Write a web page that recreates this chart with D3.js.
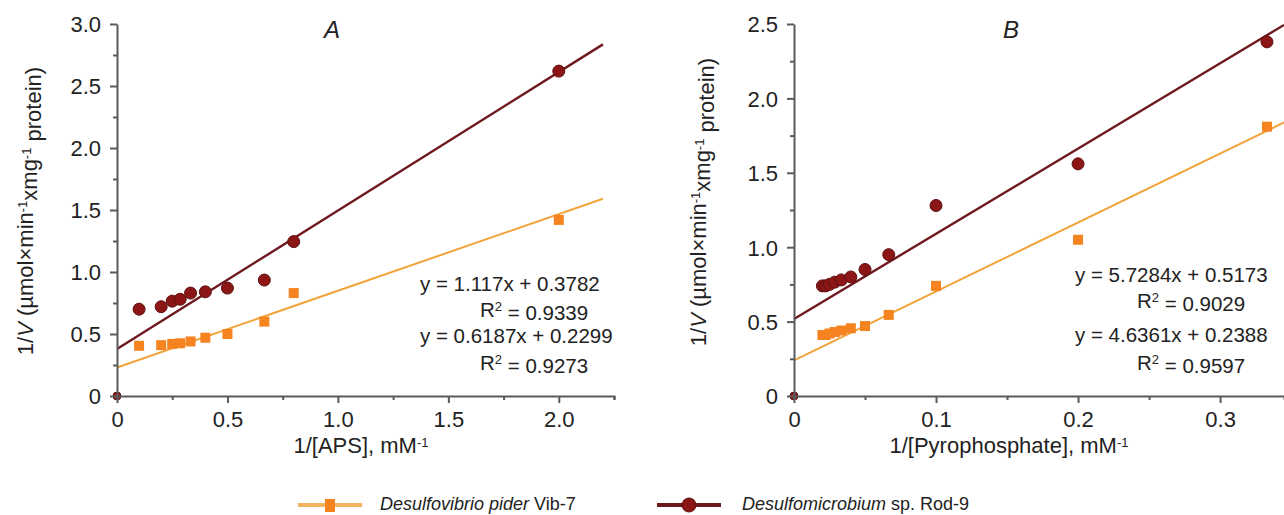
<!DOCTYPE html>
<html>
<head>
<meta charset="utf-8">
<title>Lineweaver-Burk plots</title>
<script src="https://cdn.jsdelivr.net/npm/d3@7"></script>
<style>
  body { margin: 0; background: #fff; }
  svg { display: block; font-family: "Liberation Sans", Arial, Helvetica, sans-serif; }
  .axis path, .axis line { stroke: #5a5a5a; stroke-width: 2; }
  .axis text { font-size: 22px; fill: #222; font-family: "Liberation Sans", Arial, sans-serif; }
  .minor path { stroke: none; }
  .minor text { display: none; }
  .eq { font-size: 20.5px; fill: #222; }
  .lbl { font-size: 22px; fill: #222; }
</style>
</head>
<body>
<div id="chart"></div>
<script>

    // Panel A: 1/[APS]
    var apsX     = [0, 0.1, 0.2, 0.25, 0.286, 0.333, 0.4, 0.5, 0.667, 0.8, 2.0];
    var apsRod   = [0, 0.70, 0.72, 0.765, 0.78, 0.83, 0.84, 0.87, 0.935, 1.245, 2.62];
    var apsVib   = [null, 0.405, 0.41, 0.42, 0.425, 0.44, 0.47, 0.50, 0.60, 0.83, 1.42];
    var apsFitRod = [1.117, 0.3782];
    var apsFitVib = [0.6187, 0.2299];
    var apsEq = ["y = 1.117x + 0.3782", "0.9339", "y = 0.6187x + 0.2299", "0.9273"];
    var apsXTicks = [0, 0.5, 1.0, 1.5, 2.0];
    var apsYTicks = [0, 0.5, 1.0, 1.5, 2.0, 2.5, 3.0];

    // Panel B: 1/[Pyrophosphate]
    var ppX     = [0, 0.02, 0.0222, 0.025, 0.0286, 0.0333, 0.04, 0.05, 0.0667, 0.1, 0.2, 0.333];
    var ppRod   = [0, 0.74, 0.74, 0.75, 0.765, 0.78, 0.80, 0.85, 0.95, 1.28, 1.56, 2.38];
    var ppVib   = [null, 0.41, 0.41, 0.42, 0.43, 0.44, 0.455, 0.47, 0.545, 0.74, 1.05, 1.81];
    var ppFitRod = [5.7284, 0.5173];
    var ppFitVib = [4.6361, 0.2388];
    var ppEq = ["y = 5.7284x + 0.5173", "0.9029", "y = 4.6361x + 0.2388", "0.9597"];
    var ppXTicks = [0, 0.1, 0.2, 0.3];
    var ppYTicks = [0, 0.5, 1.0, 1.5, 2.0, 2.5];

    var seriesNames = ["Desulfovibrio pider", "Desulfomicrobium"];
    var seriesSuffix = [" Vib-7", " sp. Rod-9"];

    var orangeLine = "#f2a33a", orangeMark = "#f5831f";
    var redLine = "#6e1820", redMark = "#8c1616", redStroke = "#5c0f10";

    var svg = d3.select("#chart").append("svg")
        .attr("width", 1284)
        .attr("height", 515);

    function fmt(d) { return d === 0 ? "0" : d3.format(".1f")(d); }

    function drawPanel(p) {
        var x = d3.scaleLinear().domain(p.xDomain).range([p.left, p.right]);
        var y = d3.scaleLinear().domain(p.yDomain).range([396, 24]);
        var g = svg.append("g");

        // regression lines
        [[p.fitVib, orangeLine, 2], [p.fitRod, redLine, 2.4]].forEach(function(f) {
            g.append("line")
                .attr("x1", x(0)).attr("y1", y(f[0][1]))
                .attr("x2", x(p.fitEnd)).attr("y2", y(f[0][0] * p.fitEnd + f[0][1]))
                .attr("stroke", f[1]).attr("stroke-width", f[2]);
        });

        // points
        p.xs.forEach(function(xv, i) {
            if (p.vib[i] !== null) {
                g.append("rect")
                    .attr("x", x(xv) - 5).attr("y", y(p.vib[i]) - 5)
                    .attr("width", 10).attr("height", 10)
                    .attr("fill", orangeMark);
            }
            g.append("circle")
                .attr("cx", x(xv)).attr("cy", y(p.rod[i]))
                .attr("r", i === 0 ? 4 : 6)
                .attr("fill", redMark).attr("stroke", redStroke).attr("stroke-width", 1);
        });

        // axes: minor first, then major
        g.append("g").attr("class", "axis minor")
            .attr("transform", "translate(0,396)")
            .call(d3.axisBottom(x).tickValues(p.xMinor).tickSize(4));
        g.append("g").attr("class", "axis minor")
            .attr("transform", "translate(" + p.left + ",0)")
            .call(d3.axisLeft(y).tickValues(p.yMinor).tickSize(4));

        g.append("g").attr("class", "axis")
            .attr("transform", "translate(0,396)")
            .call(d3.axisBottom(x).tickValues(p.xTicks).tickFormat(fmt).tickSize(7).tickSizeOuter(4).tickPadding(8));
        var ya = g.append("g").attr("class", "axis")
            .attr("transform", "translate(" + p.left + ",0)")
            .call(d3.axisLeft(y).tickValues(p.yTicks).tickFormat(fmt).tickSize(7).tickSizeOuter(0).tickPadding(9));
        ya.selectAll("text").attr("dy", "0.36em");

        // panel letter
        g.append("text")
            .attr("x", p.letterX).attr("y", 38)
            .attr("text-anchor", "middle")
            .style("font-size", "24px").style("font-style", "italic").attr("fill", "#222")
            .text(p.letter);

        // y title
        var yt = g.append("text").attr("class", "lbl")
            .attr("transform", "translate(" + p.yTitleX + "," + p.yTitleY + ") rotate(-90)")
            .attr("text-anchor", "middle");
        yt.append("tspan").text("1/");
        yt.append("tspan").style("font-style", "italic").text("V");
        yt.append("tspan").text(" (\u00b5mol\u00d7min");
        yt.append("tspan").attr("dy", "-0.45em").style("font-size", "13px").text("-1");
        yt.append("tspan").attr("dy", "0.45em").text("xmg");
        yt.append("tspan").attr("dy", "-0.45em").style("font-size", "13px").text("-1");
        yt.append("tspan").attr("dy", "0.45em").text(" protein)");

        // x title
        var xt = g.append("text").attr("class", "lbl")
            .attr("x", p.xTitleX).attr("y", 453)
            .attr("text-anchor", "middle");
        xt.append("tspan").text(p.xTitle + ", mM");
        xt.append("tspan").attr("dy", "-0.45em").style("font-size", "13px").text("-1");

        // equations
        var rows = [[p.eqX, p.eqY[0], p.eq[0], false], [p.r2X, p.eqY[1], p.eq[1], true],
                    [p.eqX, p.eqY[2], p.eq[2], false], [p.r2X, p.eqY[3], p.eq[3], true]];
        rows.forEach(function(r) {
            var t = g.append("text").attr("class", "eq").attr("x", r[0]).attr("y", r[1]);
            if (r[3]) {
                t.append("tspan").text("R");
                t.append("tspan").attr("dy", "-0.45em").style("font-size", "13px").text("2");
                t.append("tspan").attr("dy", "0.45em").text(" = " + r[2]);
            } else {
                t.text(r[2]);
            }
        });
    }

    drawPanel({
        xDomain: [0, 2.25], yDomain: [0, 3.0], left: 117, right: 614,
        xs: apsX, rod: apsRod, vib: apsVib,
        fitRod: apsFitRod, fitVib: apsFitVib, fitEnd: 2.2,
        xTicks: apsXTicks, yTicks: apsYTicks,
        xMinor: [0.25, 0.75, 1.25, 1.75, 2.25], yMinor: [0.25, 0.75, 1.25, 1.75, 2.25, 2.75],
        letter: "A", letterX: 332,
        yTitleX: 33, yTitleY: 211, xTitle: "1/[APS]", xTitleX: 361,
        eq: apsEq, eqX: 420, r2X: 480, eqY: [291, 317, 343, 370]
    });

    drawPanel({
        xDomain: [0, 0.345], yDomain: [0, 2.5], left: 794, right: 1284,
        xs: ppX, rod: ppRod, vib: ppVib,
        fitRod: ppFitRod, fitVib: ppFitVib, fitEnd: 0.345,
        xTicks: ppXTicks, yTicks: ppYTicks,
        xMinor: [0.05, 0.15, 0.25], yMinor: [0.25, 0.75, 1.25, 1.75, 2.25],
        letter: "B", letterX: 1011,
        yTitleX: 706, yTitleY: 202, xTitle: "1/[Pyrophosphate]", xTitleX: 1009,
        eq: ppEq, eqX: 1075, r2X: 1137, eqY: [282, 308, 342, 370]
    });

    // legend
    var legend = svg.append("g");
    var legendItems = [
        { x0: 298, color: orangeLine, mark: "square", tx: 380 },
        { x0: 657, color: redLine, mark: "circle", tx: 742 }
    ];
    legendItems.forEach(function(d, i) {
        var mid = d.x0 + 32;
        legend.append("line")
            .attr("x1", d.x0).attr("x2", d.x0 + 64).attr("y1", 505).attr("y2", 505)
            .attr("stroke", d.color).attr("stroke-width", 4).attr("opacity", i === 0 ? 0.8 : 1);
        if (d.mark === "square") {
            legend.append("rect").attr("x", mid - 5).attr("y", 499).attr("width", 10).attr("height", 13)
                .attr("fill", orangeMark);
        } else {
            legend.append("circle").attr("cx", mid).attr("cy", 505).attr("r", 7)
                .attr("fill", redMark).attr("stroke", redStroke);
        }
        var t = legend.append("text").attr("x", d.tx).attr("y", 510)
            .style("font-size", "18px").attr("fill", "#222");
        t.append("tspan").style("font-style", "italic").text(seriesNames[i]);
        t.append("tspan").text(seriesSuffix[i]);
    });

</script>
</body>
</html>
